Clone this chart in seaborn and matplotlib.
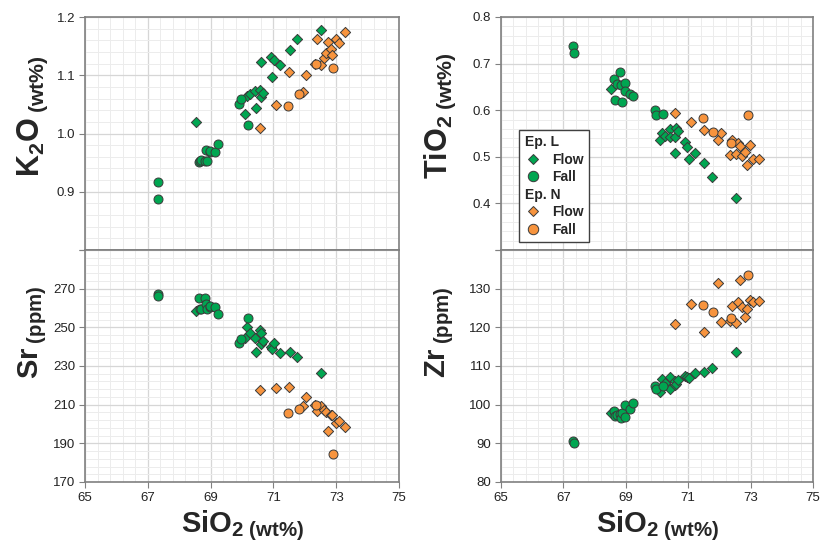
import numpy as np
import pandas as pd
import seaborn as sns
import matplotlib.pyplot as plt
from matplotlib.lines import Line2D
from matplotlib.ticker import FuncFormatter

sns.set_style("white")
plt.rcParams.update({
    "font.family": ["Liberation Sans", "DejaVu Sans"],
    "mathtext.fontset": "custom",
    "mathtext.bf": "Liberation Sans:bold",
    "mathtext.rm": "Liberation Sans",
})

# Ep. L - flow (green diamonds)
l_flow_sio2 = [68.52, 70.11, 70.16, 70.27, 70.42, 70.43, 70.57, 70.59, 70.62, 70.66, 70.91, 70.96, 71.03, 71.22, 71.52, 71.75, 72.53]
l_flow_k2o = [1.019, 1.034, 1.064, 1.068, 1.073, 1.043, 1.075, 1.063, 1.123, 1.070, 1.131, 1.097, 1.126, 1.117, 1.143, 1.163, 1.178]
l_flow_tio2 = [0.645, 0.537, 0.552, 0.544, 0.560, 0.542, 0.542, 0.508, 0.561, 0.556, 0.532, 0.522, 0.496, 0.508, 0.486, 0.456, 0.412]
l_flow_sr = [258.7, 244.4, 250.3, 246.9, 244.4, 237.5, 248.6, 241.5, 246.9, 243.0, 239.6, 238.8, 241.7, 236.6, 237.5, 234.9, 226.5]
l_flow_zr = [97.8, 103.4, 106.6, 105.5, 107.2, 104.1, 105.0, 106.0, 105.3, 106.4, 107.4, 107.2, 106.9, 108.2, 108.4, 109.4, 113.5]

# Ep. L - fall (green circles)
l_fall_sio2 = [67.32, 67.33, 68.63, 68.66, 68.71, 68.82, 68.86, 68.88, 68.97, 68.98, 69.13, 69.22, 69.92, 69.98, 70.20]
l_fall_k2o = [0.916, 0.887, 0.951, 0.952, 0.955, 0.953, 0.972, 0.952, 0.969, 0.970, 0.969, 0.982, 1.051, 1.060, 1.015]
l_fall_tio2 = [0.737, 0.722, 0.667, 0.622, 0.656, 0.682, 0.654, 0.617, 0.658, 0.642, 0.634, 0.630, 0.600, 0.589, 0.591]
l_fall_sr = [267.4, 266.0, 265.3, 259.6, 259.6, 265.3, 262.0, 259.6, 260.4, 261.0, 260.4, 257.0, 242.0, 244.0, 254.9]
l_fall_zr = [90.7, 90.1, 98.3, 97.0, 97.4, 97.6, 96.5, 97.8, 100.0, 96.8, 99.0, 100.5, 104.7, 104.0, 104.9]

# Ep. N - flow (orange diamonds)
n_flow_sio2 = [70.58, 71.09, 71.50, 71.94, 72.05, 72.33, 72.39, 72.52, 72.60, 72.67, 72.73, 72.83, 72.87, 72.99, 73.08, 73.27]
n_flow_k2o = [1.010, 1.049, 1.105, 1.071, 1.101, 1.119, 1.163, 1.118, 1.130, 1.138, 1.157, 1.145, 1.134, 1.163, 1.155, 1.174]
n_flow_tio2 = [0.593, 0.575, 0.557, 0.537, 0.550, 0.503, 0.535, 0.505, 0.530, 0.523, 0.501, 0.510, 0.483, 0.526, 0.496, 0.495]
n_flow_sr = [217.8, 218.7, 219.0, 209.1, 214.2, 209.7, 206.5, 209.1, 207.5, 206.2, 196.4, 204.4, 204.8, 200.4, 201.8, 198.7]
n_flow_zr = [120.9, 126.1, 118.7, 131.5, 121.3, 121.6, 125.5, 121.1, 126.5, 132.3, 125.3, 122.6, 124.8, 127.0, 126.5, 126.8]

# Ep. N - fall (orange circles)
n_fall_sio2 = [71.48, 71.81, 72.37, 72.91]
n_fall_k2o = [1.047, 1.067, 1.120, 1.113]
n_fall_tio2 = [0.583, 0.553, 0.530, 0.589]
n_fall_sr = [205.7, 207.7, 210.0, 184.6]
n_fall_zr = [125.7, 124.0, 122.5, 133.6]

groups = [
    ("Ep. L", "Flow", l_flow_sio2, l_flow_k2o, l_flow_tio2, l_flow_sr, l_flow_zr),
    ("Ep. L", "Fall", l_fall_sio2, l_fall_k2o, l_fall_tio2, l_fall_sr, l_fall_zr),
    ("Ep. N", "Flow", n_flow_sio2, n_flow_k2o, n_flow_tio2, n_flow_sr, n_flow_zr),
    ("Ep. N", "Fall", n_fall_sio2, n_fall_k2o, n_fall_tio2, n_fall_sr, n_fall_zr),
]
frames = []
for ep, kind, si, k, ti, sr, zr in groups:
    frames.append(pd.DataFrame({"Ep": ep, "Type": kind, "SiO2": si, "K2O": k,
                                "TiO2": ti, "Sr": sr, "Zr": zr}))
df = pd.concat(frames, ignore_index=True)

colores = {"Ep. L": "#00A651", "Ep. N": "#F7943E"}
marcas = {"Flow": "D", "Fall": "o"}
tamanos = {"Flow": 27, "Fall": 42}
borde = "#3a3a3a"

fig = plt.figure(figsize=(8.21, 5.5), dpi=100)
W, H = 821, 550
def px_axes(x0, y0, x1, y1):
    return fig.add_axes([x0 / W, 1 - y1 / H, (x1 - x0) / W, (y1 - y0) / H])

ax_k = px_axes(85, 17, 399, 250)
ax_sr = px_axes(85, 250, 399, 482)
ax_ti = px_axes(501, 17, 813, 250)
ax_zr = px_axes(501, 250, 813, 482)

# axis, column, y limits, major step, minor step, format, unlabelled tick
paneles = [
    (ax_k, "K2O", (0.8, 1.2), 0.1, 0.02, "%.1f", 0.8),
    (ax_sr, "Sr", (170, 290), 20, 4, "%d", 290),
    (ax_ti, "TiO2", (0.3, 0.8), 0.1, 0.02, "%.1f", 0.3),
    (ax_zr, "Zr", (80, 140), 10, 2, "%d", 140),
]

for ax, col, ylim, major, minor, fmt, hidden in paneles:
    ax.set_axisbelow(True)
    for (ep, kind), sub in df.groupby(["Ep", "Type"], sort=False):
        sns.scatterplot(data=sub, x="SiO2", y=col, ax=ax, color=colores[ep],
                        marker=marcas[kind], s=tamanos[kind], edgecolor=borde,
                        linewidth=0.7, legend=False, zorder=3)
    ax.set_xlim(65, 75)
    ax.set_ylim(*ylim)
    ax.set_xticks(np.arange(65, 75.01, 2))
    ax.set_xticks(np.arange(65, 75.01, 0.4), minor=True)
    ax.set_yticks(np.arange(ylim[0], ylim[1] + major / 100, major))
    ax.set_yticks(np.arange(ylim[0], ylim[1] + minor / 100, minor), minor=True)
    ax.set_ylim(*ylim)
    ax.yaxis.set_major_formatter(FuncFormatter(
        lambda v, p, fmt=fmt, hidden=hidden: "" if abs(v - hidden) < 1e-6 else fmt % v))
    ax.grid(which="major", color="#d6d6d6", linewidth=0.9)
    ax.grid(which="minor", color="#ececec", linewidth=0.7)
    ax.tick_params(which="major", direction="out", length=4, width=0.8, color="#808080",
                   labelsize=9.5, labelcolor="#222222", left=True, bottom=True, pad=3)
    ax.tick_params(which="minor", length=0)
    for sp in ax.spines.values():
        sp.set_visible(True)
        sp.set_color("#808080")
        sp.set_linewidth(1.2)
    ax.set_xlabel("")
    ax.set_ylabel("")

for ax in (ax_k, ax_ti):
    ax.tick_params(axis="x", which="both", bottom=False, labelbottom=False)

# axis titles
def titulo(x, y, s, rot, size=21):
    fig.text(x / W, 1 - y / H, s, rotation=rot, ha="center", va="center", fontsize=size)

titulo(33, 116, r"$\mathbf{K_2O}\,_{\mathbf{(wt\%)}}$", 90, 22)
titulo(440, 116, r"$\mathbf{TiO_2}\,_{\mathbf{(wt\%)}}$", 90, 22)
titulo(33, 332, r"$\mathbf{Sr}\,_{\mathbf{(ppm)}}$", 90)
titulo(440, 332, r"$\mathbf{Zr}\,_{\mathbf{(ppm)}}$", 90)
titulo(242, 526, r"$\mathbf{SiO_2}\,_{\mathbf{(wt\%)}}$", 0)
titulo(657, 526, r"$\mathbf{SiO_2}\,_{\mathbf{(wt\%)}}$", 0)

# legend
def marca(ep, m, ms):
    return Line2D([], [], linestyle="none", marker=m, markersize=ms,
                  markerfacecolor=colores[ep], markeredgecolor=borde, markeredgewidth=0.7)

handles = [
    Line2D([], [], linestyle="none", marker=None),
    marca("Ep. L", "D", 5.5), marca("Ep. L", "o", 7.5),
    Line2D([], [], linestyle="none", marker=None),
    marca("Ep. N", "D", 5.5), marca("Ep. N", "o", 7.5),
]
labels = ["Ep. L", "Flow", "Fall", "Ep. N", "Flow", "Fall"]
leg = ax_ti.legend(handles, labels, loc="lower left", bbox_to_anchor=(0.058, 0.034),
                   borderaxespad=0, frameon=True, fancybox=False, edgecolor="#404040",
                   framealpha=1, handlelength=1.2, handletextpad=0.8, labelspacing=0.25,
                   borderpad=0.4, prop={"weight": "bold", "size": 10})
leg.get_frame().set_linewidth(1.0)
for colbox in leg._legend_handle_box.get_children():
    for row in colbox.get_children():
        hbox, tbox = row.get_children()
        if tbox._text.get_text().startswith("Ep."):
            hbox.width = 0
            row.sep = 0

fig.savefig("out.png", dpi=100)
